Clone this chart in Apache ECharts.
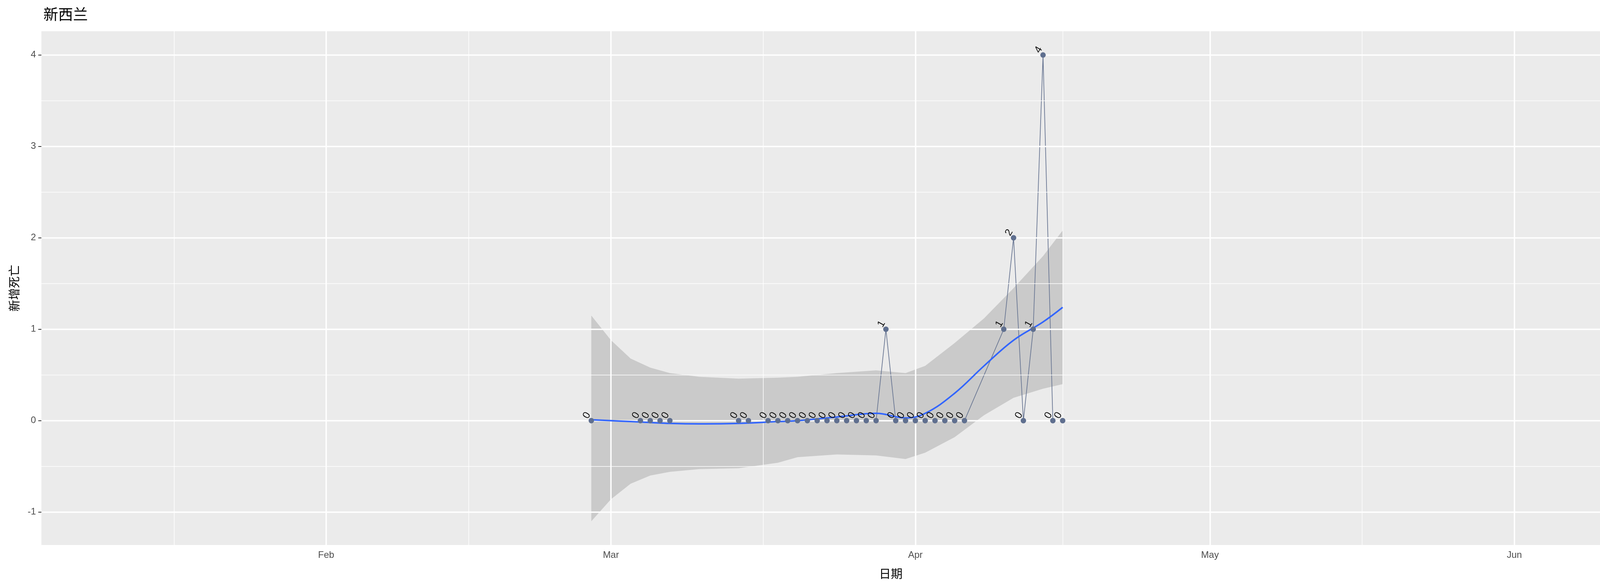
<!DOCTYPE html>
<html><head><meta charset="utf-8">
<script src="https://cdn.jsdelivr.net/npm/echarts@6/dist/echarts.min.js"></script>
<style>html,body{margin:0;background:#fff}#c{width:4500px;height:1500px}</style>
</head><body><div id="c"></div>
<script>
const dates = ['2020-02-28','2020-03-04','2020-03-05','2020-03-06','2020-03-07','2020-03-14','2020-03-15',
'2020-03-17','2020-03-18','2020-03-19','2020-03-20','2020-03-21','2020-03-22','2020-03-23','2020-03-24','2020-03-25','2020-03-26','2020-03-27','2020-03-28','2020-03-29',
'2020-03-30','2020-03-31','2020-04-01','2020-04-02','2020-04-03','2020-04-04','2020-04-05','2020-04-06',
'2020-04-10','2020-04-11','2020-04-12','2020-04-13','2020-04-14','2020-04-15','2020-04-16'];
const deaths = [0,0,0,0,0,0,0, 0,0,0,0,0,0,0,0,0,0,0,0,1, 0,0,0,0,0,0,0,0, 1,2,0,1,4,0,0];
const smoothDates = ['2020-02-28','2020-03-01','2020-03-03','2020-03-05','2020-03-07','2020-03-10','2020-03-14','2020-03-18','2020-03-20','2020-03-24','2020-03-28','2020-03-31','2020-04-02','2020-04-05','2020-04-08','2020-04-11','2020-04-14','2020-04-16'];
const smoothFit = [0.01,0.0,-0.01,-0.02,-0.03,-0.035,-0.03,-0.01,0.0,0.04,0.08,0.03,0.08,0.3,0.6,0.88,1.08,1.24];
const bandHigh = [1.15,0.88,0.68,0.58,0.52,0.48,0.46,0.47,0.48,0.52,0.55,0.52,0.6,0.85,1.12,1.45,1.8,2.08];
const bandLow = [-1.1,-0.86,-0.69,-0.6,-0.56,-0.53,-0.52,-0.46,-0.4,-0.37,-0.38,-0.42,-0.35,-0.18,0.06,0.25,0.35,0.4];
const monthTicks = ['2020-02-01','2020-03-01','2020-04-01','2020-05-01','2020-06-01'];
const monthNames = ['Feb','Mar','Apr','May','Jun'];
const minorTicks = ['2020-01-16T12:00','2020-02-15T12:00','2020-03-16T12:00','2020-04-16','2020-05-16T12:00','2020-06-16'];

const ts = s => new Date(s + (s.length===10?'T00:00:00Z':'Z')).getTime();
const pts = dates.map((d,i)=>[ts(d),deaths[i]]);
const fitPts = smoothDates.map((d,i)=>[ts(d),smoothFit[i]]);
const bandPts = smoothDates.map((d,i)=>[ts(d),bandLow[i],bandHigh[i]]);
const monthTs = monthTicks.map(ts);
const chart = echarts.init(document.getElementById('c'));
const grey='#4d4d4d';
chart.setOption({
  animation:false,
  title:{text:'新西兰',left:106,top:12,textStyle:{fontSize:38,fontWeight:'normal',color:'#000',fontFamily:'Noto Sans CJK SC'}},
  grid:{left:106,right:45,top:80,bottom:105,show:true,backgroundColor:'#EBEBEB',borderWidth:0},
  xAxis:{type:'value',min:ts('2020-01-03'),max:ts('2020-06-24'),
    name:'日期',nameLocation:'middle',nameGap:58,nameTextStyle:{fontSize:30,color:'#000',fontFamily:'Noto Sans CJK SC'},
    axisLine:{show:false},splitLine:{show:false},
    axisTick:{show:true,customValues:monthTs,length:8,lineStyle:{color:'#333',width:2}},
    axisLabel:{customValues:monthTs,formatter:v=>{const i=monthTs.indexOf(v);return i>=0?monthNames[i]:'';},fontSize:24,color:grey,margin:14}},
  yAxis:{type:'value',min:-1.36,max:4.26,
    name:'新增死亡',nameLocation:'middle',nameGap:55,nameRotate:90,nameTextStyle:{fontSize:30,color:'#000',fontFamily:'Noto Sans CJK SC'},
    axisLine:{show:false},axisTick:{show:true,customValues:[-1,0,1,2,3,4],length:8,lineStyle:{color:'#333',width:2}},
    axisLabel:{customValues:[-1,0,1,2,3,4],fontSize:24,color:grey,margin:14},
    splitLine:{show:false}},
  series:[
    {type:'line',data:[[ts('2020-01-03'),-5]],symbol:'none',lineStyle:{opacity:0},markLine:{silent:true,symbol:'none',label:{show:false},
      data:[...minorTicks.map(d=>({xAxis:ts(d),lineStyle:{color:'#fff',width:1.5,type:'solid'}})),
            ...monthTs.map(v=>({xAxis:v,lineStyle:{color:'#fff',width:3.5,type:'solid'}})),
            ...[-0.5,0.5,1.5,2.5,3.5].map(v=>({yAxis:v,lineStyle:{color:'#fff',width:1.5,type:'solid'}})),
            ...[-1,0,1,2,3,4].map(v=>({yAxis:v,lineStyle:{color:'#fff',width:3.5,type:'solid'}}))]}},
    {type:'custom',data:bandPts,z:3,renderItem:(params,api)=>{
      if(params.dataIndex!==0) return null;
      const up=bandPts.map(p=>api.coord([p[0],p[2]]));
      const lo=bandPts.map(p=>api.coord([p[0],p[1]])).reverse();
      return {type:'polygon',shape:{points:up.concat(lo)},style:{fill:'rgba(153,153,153,0.4)'}};
    }},
    {type:'line',data:pts,z:4,symbol:'none',lineStyle:{color:'#6b7894',width:1.8}},
    {type:'scatter',data:pts,z:6,symbol:'circle',symbolSize:14,
      itemStyle:{color:'#5f6f8f',opacity:1},
      labelLayout:{hideOverlap:false},
      label:{show:true,formatter:p=>String(p.value[1]),rotate:60,position:'top',distance:0,offset:[-6,4],fontSize:26,color:'#111'}},
    {type:'line',data:fitPts,z:5,smooth:0.4,symbol:'none',lineStyle:{color:'#3366FF',width:4}}
  ]
});
</script></body></html>
